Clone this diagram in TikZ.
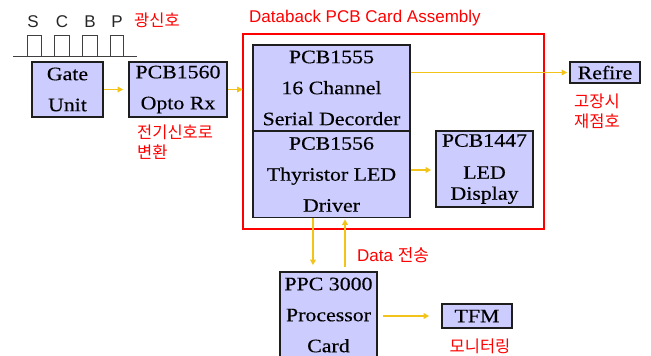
\documentclass[tikz,border=0pt]{standalone}
\usepackage{fontspec}
\setmainfont{Liberation Serif}[FakeStretch=1.15, FakeBold=0.3]
\newfontfamily\labfont{Liberation Sans}
\newfontfamily\krfont{Noto Sans CJK KR}
\usetikzlibrary{arrows.meta,calc}
\definecolor{boxfill}{RGB}{204,204,255}
\definecolor{boxline}{RGB}{30,30,30}
\definecolor{sigline}{RGB}{242,195,24}
\definecolor{redline}{RGB}{255,0,0}
\tikzset{
  boxtext/.style={inner sep=0pt, align=center, font=\fontsize{19}{31}\selectfont},
  box/.style={boxtext, draw=boxline, fill=boxfill, line width=1.6pt},
  arr/.style={draw=sigline, line width=1.8pt, -{Triangle[length=5.5pt,width=5.5pt]}},
  lab/.style={text=redline, inner sep=0pt, font=\fontsize{17}{20}\selectfont\labfont},
  kr/.style={text=redline, inner sep=0pt, font=\fontsize{16.5}{20}\selectfont\krfont},
  pulse/.style={draw=black!75, line width=0.8pt},
}
\begin{document}
\begin{tikzpicture}[x=1pt,y=-1pt]
\useasboundingbox (0,0) rectangle (651,356);
\clip (0,0) rectangle (651,356);

% pulse train above the gate unit
\draw[pulse] (13,56) -- (137,56);
\foreach \a/\b in {27/41, 54/69, 82/97, 110/123}
  \draw[pulse] (\a,56) -- (\a,35) -- (\b,35) -- (\b,56);
\foreach \x/\t in {33/S, 62/C, 90/B, 117/P}
  \node[inner sep=0pt, text=black!85, font=\fontsize{17}{20}\selectfont\labfont] (sig\t) at (\x,22) {\t};
\node[kr] (optsig) at (157,20) {광신호};

% Databack assembly frame
\node[draw=redline, line width=2.6pt, minimum width=301pt, minimum height=195pt, inner sep=0pt]
  (frame) at (393.5,131.5) {};
\node[lab, anchor=west] (frametitle) at (249,18) {Databack PCB Card Assembly};

% boxes
\node[box, minimum width=71pt, minimum height=55pt] (gate) at (67.5,89.5) {Gate\\Unit};
\node[box, minimum width=98pt, minimum height=55pt] (opto) at (178,89.5) {PCB1560\\Opto Rx};
\node[box, minimum width=157pt, minimum height=86pt] (dec) at (331.5,88) {PCB1555\\16 Channel\\Serial Decorder};
\node[box, minimum width=157pt, minimum height=86pt] (drv) at (331.5,174.5) {PCB1556\\Thyristor LED\\Driver};
\node[box, minimum width=97pt, minimum height=76pt] (led) at (484.5,169) {PCB1447\\[1pt]LED\\[-10pt]Display};
\node[box, minimum width=70pt, minimum height=21pt] (refire) at (605,72.5) {Refire};
\node[box, minimum width=97pt, minimum height=92pt] (ppc) at (328.5,318) {};
\node[boxtext] (ppctext) at (328.5,315) {PPC 3000\\Processor\\Card};
\node[box, minimum width=70pt, minimum height=24pt] (tfm) at (477,316) {TFM};

% labels
\node[kr, anchor=north west, align=left] (conv) at (137,125) {전기신호로\\변환};
\node[kr, align=center] (refirelab) at (597,111) {고장시\\재점호};
\node[anchor=west, inner sep=0pt] (datalab) at (357,255)
  {\color{redline}\fontsize{17}{20}\selectfont\labfont Data \krfont 전송};
\node[kr] (monlab) at (480,346) {모니터링};

% connectors
\draw[arr, shorten >=5pt] (gate.east) -- (opto.west);
\draw[arr, shorten >=-1pt] (opto.east) -- (opto.east -| frame.west);
\draw[arr, shorten >=2pt] (refire.west -| dec.east) -- (refire.west);
\draw[arr, shorten >=4pt] (drv.east |- 0,170) -- (led.west |- 0,170);
\draw[arr, shorten >=6pt] ([xshift=-18.5pt]drv.south) -- ([xshift=-18.5pt]drv.south |- ppc.north);
\draw[arr, shorten <=4pt, shorten >=1pt] ([xshift=16.5pt]ppc.north) -- ([xshift=16.5pt]ppc.north |- drv.south);
\draw[arr, shorten <=5pt, shorten >=12pt] (ppc.east |- tfm.west) -- (tfm.west);
\end{tikzpicture}
\end{document}
